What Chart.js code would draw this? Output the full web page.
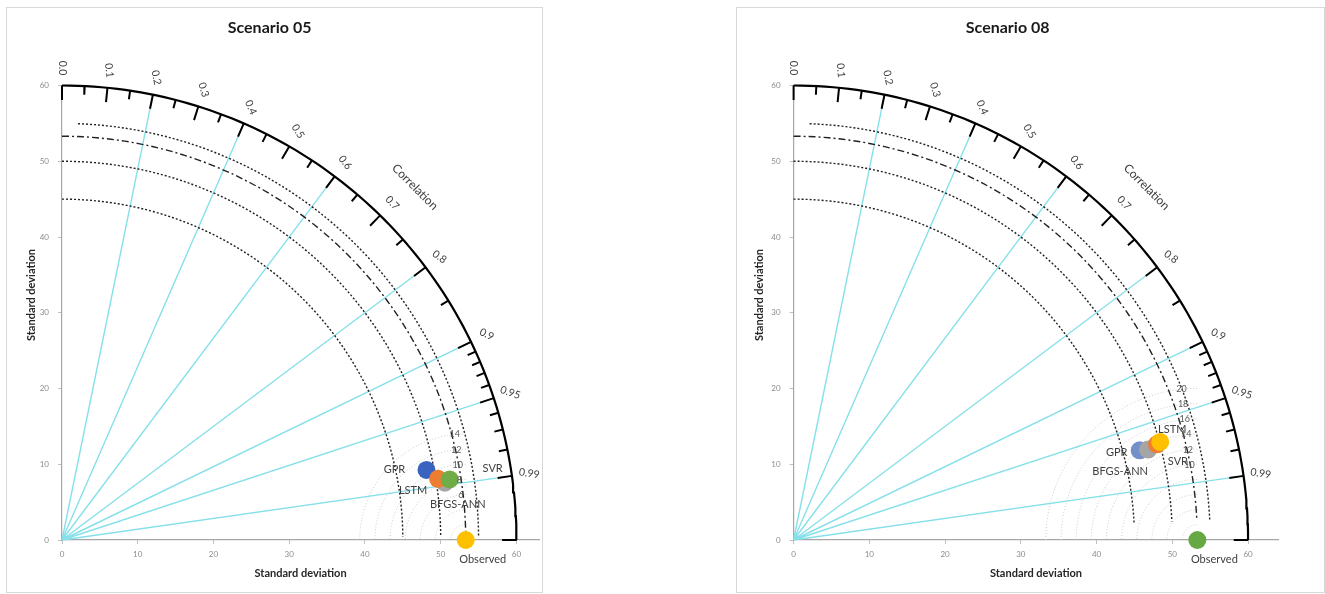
<!DOCTYPE html>
<html>
<head>
<meta charset="utf-8">
<script src="https://cdn.jsdelivr.net/npm/chart.js@4.4.0/dist/chart.umd.min.js"></script>
<style>
  body { margin: 0; background: #fff; width: 1325px; height: 594px; position: relative; overflow: hidden; }
  .frame { position: absolute; border: 1px solid #d9d9d9; box-sizing: border-box; }
  .wrap { position: absolute; top: 0; height: 594px; }
</style>
</head>
<body>
<div class="frame" style="left:6px;top:7px;width:537px;height:586px"></div>
<div class="frame" style="left:736px;top:7px;width:589px;height:586px"></div>
<div class="wrap" style="left:0;width:601px"><canvas id="c05" width="601" height="594"></canvas></div>
<div class="wrap" style="left:737px;width:588px"><canvas id="c08" width="588" height="594"></canvas></div>
<script>
// axis ticks
const xTicks = [0, 10, 20, 30, 40, 50, 60];
const yTicks = [0, 10, 20, 30, 40, 50, 60];

// taylor grid
const stdMax = 60;
const stdArcs = [45, 50, 55];
const obsStd = 53.3;
const corrRays = [0.2, 0.4, 0.6, 0.8, 0.9, 0.95, 0.99];
const corrMajor = [0, 0.1, 0.2, 0.3, 0.4, 0.5, 0.6, 0.7, 0.8, 0.9, 0.95, 0.99, 1];
const corrMinor = [0.05, 0.15, 0.25, 0.35, 0.45, 0.55, 0.65, 0.75, 0.85, 0.91, 0.92, 0.93, 0.94, 0.96, 0.97, 0.98];
const corrLabelAt = [0, 0.1, 0.2, 0.3, 0.4, 0.5, 0.6, 0.7, 0.8, 0.9, 0.95, 0.99];
const corrLabels = ['0.0', '0.1', '0.2', '0.3', '0.4', '0.5', '0.6', '0.7', '0.8', '0.9', '0.95', '0.99'];

// models: GPR, LSTM, BFGS-ANN, SVR
const models = ['GPR', 'LSTM', 'BFGS-ANN', 'SVR'];

const s05Std = [49.0, 50.3, 51.1, 51.8];
const s05Corr = [0.982, 0.987, 0.989, 0.988];
const s05Rms = [2, 4, 6, 8, 10, 12, 14];
const s05RmsLabels = [6, 8, 10, 12, 14];

const s08Std = [47.2, 50.1, 48.3, 49.6];
const s08Corr = [0.968, 0.966, 0.969, 0.967];
const s08Rms = [2, 4, 6, 8, 10, 12, 14, 16, 18, 20];
const s08RmsLabels = [10, 12, 14, 16, 18, 20];

Chart.defaults.font.family = 'Lato, "Open Sans", sans-serif';

const deg = Math.PI / 180;
const gap = {x: null, y: null};

function arc(r, a0, a1, cx) {
  const pts = [];
  const n = Math.max(2, Math.round(Math.abs(a1 - a0)));
  for (let i = 0; i <= n; i++) {
    const a = (a0 + (a1 - a0) * i / n) * deg;
    pts.push({x: (cx || 0) + r * Math.cos(a), y: r * Math.sin(a)});
  }
  return pts;
}

function polar(r, c) {
  const a = Math.acos(c);
  return {x: r * Math.cos(a), y: r * Math.sin(a)};
}

function tickSegs(list, len) {
  const out = [];
  list.forEach(c => { out.push(polar(stdMax, c), polar(stdMax - len, c), gap); });
  return out;
}

function lineSet(data, color, width, dash) {
  return {
    type: 'scatter', data: data, showLine: true, pointRadius: 0, borderColor: color,
    borderWidth: width, borderDash: dash || [], fill: false, tension: 0, clip: false
  };
}

const taylorText = {
  id: 'taylorText',
  afterDatasetsDraw(chart, args, o) {
    const ctx = chart.ctx;
    const sx = chart.scales.x, sy = chart.scales.y;
    const P = (x, y) => [sx.getPixelForValue(x), sy.getPixelForValue(y)];
    ctx.save();
    ctx.textAlign = 'center';
    ctx.textBaseline = 'middle';

    // correlation labels along the outer arc
    ctx.fillStyle = '#404040';
    ctx.font = '10.5px Lato';
    corrLabelAt.forEach((c, i) => {
      const a = Math.acos(c);
      const [px, py] = P(62.3 * Math.cos(a), 62.3 * Math.sin(a));
      ctx.save();
      ctx.translate(px, py);
      ctx.rotate(a);
      ctx.fillText(corrLabels[i], 0, 0);
      ctx.restore();
    });

    // "Correlation"
    {
      const [px, py] = P(65.9 * Math.cos(45 * deg), 65.9 * Math.sin(45 * deg));
      ctx.save();
      ctx.translate(px, py);
      ctx.rotate(45 * deg);
      ctx.font = '12px Lato';
      ctx.fillText('Correlation', 0, 0);
      ctx.restore();
    }

    // y axis title
    ctx.save();
    ctx.translate(chart.chartArea.left - o.yTitleOff, 295);
    ctx.rotate(-Math.PI / 2);
    ctx.font = 'bold 11px Lato';
    ctx.fillStyle = '#262626';
    ctx.fillText('Standard deviation', 0, 0);
    ctx.restore();

    // RMS circle labels
    ctx.font = '9px Lato';
    ctx.fillStyle = '#595959';
    o.rmsLabels.forEach(r => {
      const [px, py] = P(obsStd + r * Math.cos(96 * deg), r * Math.sin(96 * deg));
      ctx.fillText(String(r), px, py);
    });

    // model labels
    ctx.font = '11px Lato';
    ctx.fillStyle = '#404040';
    models.forEach((m, i) => {
      const p = polar(o.std[i], o.corr[i]);
      const [px, py] = P(p.x, p.y);
      ctx.fillText(m, px + o.labelOff[i][0], py + o.labelOff[i][1]);
    });

    // observed label
    {
      const [px, py] = P(obsStd, 0);
      ctx.font = '11px Lato';
      ctx.fillText('Observed', px + 17, py + 19);
    }
    ctx.restore();
  }
};

function buildChart(id, cfg) {
  const datasets = [];

  // markers, top-most first
  datasets.push({
    type: 'scatter', data: [{x: obsStd, y: 0}], pointRadius: 9, pointBorderWidth: 0,
    pointBackgroundColor: cfg.obsColor, clip: false
  });
  cfg.drawOrder.forEach(i => {
    datasets.push({
      type: 'scatter', data: [polar(cfg.std[i], cfg.corr[i])], pointRadius: 9, pointBorderWidth: 0,
      pointBackgroundColor: cfg.colors[i], clip: false
    });
  });

  // outer arc and correlation ticks
  datasets.push(lineSet(arc(stdMax, 0, 90), '#000', 2.2));
  datasets.push(lineSet(tickSegs(corrMajor, 1.9), '#000', 2));
  datasets.push(lineSet(tickSegs(corrMinor, 1.15), '#000', 2));

  // standard deviation arcs
  datasets.push(lineSet(arc(obsStd, 90, cfg.arcEnd), '#222', 1.4, [7, 3, 2, 3]));
  stdArcs.forEach(r => {
    const start = r === 55 ? 87.8 : 90;
    datasets.push(lineSet(arc(r, start, cfg.arcEnd), '#222', 1.4, [2, 2]));
  });

  // correlation rays
  const rays = [];
  corrRays.forEach(c => { rays.push({x: 0, y: 0}, polar(stdMax, c), gap); });
  datasets.push(lineSet(rays, '#86e0ea', 1.4));

  // centred RMS circles
  const rms = [];
  cfg.rms.forEach(r => { rms.push(...arc(r, 90, 180, obsStd), gap); });
  datasets.push(lineSet(rms, '#cbcbcb', 1, [1, 2]));

  const axisCommon = {
    type: 'linear',
    grid: {display: true, drawOnChartArea: false, drawTicks: true, tickLength: 4, color: '#bfbfbf'},
    border: {display: true, color: '#a6a6a6', width: 1.2},
    ticks: {color: '#8c8c8c', font: {size: 8}, padding: 6}
  };

  new Chart(document.getElementById(id), {
    type: 'scatter',
    data: {datasets: datasets},
    plugins: [taylorText],
    options: {
      responsive: false,
      animation: false,
      events: [],
      layout: {padding: {left: 0, right: cfg.padRight, top: 0, bottom: 0}},
      plugins: {
        legend: {display: false},
        tooltip: {enabled: false},
        title: {
          display: true, text: cfg.title, color: '#1a1a1a',
          font: {size: 16, weight: 'bold'}, padding: {top: 18.7, bottom: 47.6}
        },
        taylorText: {
          std: cfg.std, corr: cfg.corr, rmsLabels: cfg.rmsLabels,
          labelOff: cfg.labelOff, yTitleOff: cfg.yTitleOff
        }
      },
      scales: {
        x: Object.assign({}, axisCommon, {
          min: 0, max: cfg.xMax,
          afterBuildTicks: s => { s.ticks = xTicks.map(v => ({value: v})); },
          afterFit: s => { s.height = 54; },
          title: {display: true, text: 'Standard deviation', color: '#262626',
                  font: {size: 11, weight: 'bold'}, padding: {top: 0, bottom: 14}}
        }),
        y: Object.assign({}, axisCommon, {
          min: 0, max: stdMax,
          afterBuildTicks: s => { s.ticks = yTicks.map(v => ({value: v})); },
          afterFit: s => { s.width = cfg.yWidth; },
          ticks: {color: '#8c8c8c', font: {size: 8}, padding: 9}
        })
      }
    }
  });
}

buildChart('c05', {
  title: 'Scenario 05',
  std: s05Std, corr: s05Corr, rms: s05Rms, rmsLabels: s05RmsLabels,
  colors: ['#3a63c0', '#ed7d31', '#a5a5a5', '#70ad47'],
  obsColor: '#ffc000',
  drawOrder: [3, 1, 2, 0],
  labelOff: [[-32, 0], [-25, 12], [13, 22], [43, -11]],
  arcEnd: 0.5, xMax: 63, padRight: 61.8, yWidth: 62, yTitleOff: 31
});

buildChart('c08', {
  title: 'Scenario 08',
  std: s08Std, corr: s08Corr, rms: s08Rms, rmsLabels: s08RmsLabels,
  colors: ['#7391c8', '#ffc000', '#a5a5a5', '#ed7d31'],
  obsColor: '#66a844',
  drawOrder: [1, 3, 2, 0],
  labelOff: [[-23, 2], [12, -12], [-28, 22], [21, 17]],
  arcEnd: 2.8, xMax: 64, padRight: 46.6, yWidth: 56.6, yTitleOff: 34
});
</script>
</body>
</html>
